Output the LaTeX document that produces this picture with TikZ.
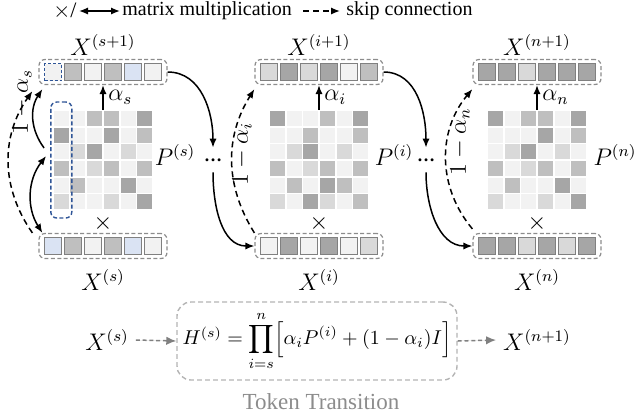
\documentclass[tikz,border=0pt]{standalone}
\usepackage{fontspec}
\setmainfont{Liberation Serif}
\usetikzlibrary{arrows.meta, positioning}

\definecolor{c0}{HTML}{F2F2F2}
\definecolor{c1}{HTML}{D9D9D9}
\definecolor{c2}{HTML}{BFBFBF}
\definecolor{c3}{HTML}{A6A6A6}
\definecolor{c4}{HTML}{DAE3F3}
\definecolor{cellgray}{HTML}{808080}
\definecolor{boxgray}{HTML}{8C8C8C}
\definecolor{selblue}{HTML}{2F5597}
\definecolor{lightline}{HTML}{B4B4B4}
\definecolor{tokgray}{HTML}{8C8C8C}

\tikzset{
  arr/.style={-{Latex[length=4.5pt,width=3.6pt]}, line width=0.75pt},
  dblarr/.style={{Latex[length=4.5pt,width=3.6pt]}-{Latex[length=4.5pt,width=3.6pt]}, line width=0.75pt},
  skiparr/.style={arr, dash pattern=on 3pt off 2pt},
  grayarr/.style={-{Latex[length=5pt,width=4.2pt]}, draw=cellgray, fill=cellgray, line width=0.75pt, dash pattern=on 2pt off 1.4pt},
  vecbox/.style={draw=boxgray, line width=0.6pt, dash pattern=on 2pt off 1.2pt, rounded corners=3pt,
    minimum width=64pt, minimum height=12.5pt, inner sep=0pt},
  vcell/.style={draw=cellgray, line width=0.5pt, minimum size=8.5pt, inner sep=0pt},
  selcell/.style={vcell, fill=c0, draw=selblue, dash pattern=on 1.5pt off 1pt, line width=0.7pt},
  matbox/.style={minimum size=50pt, inner sep=0pt},
  colbox/.style={draw=selblue, line width=0.7pt, dash pattern=on 2pt off 1.2pt, rounded corners=3pt,
    minimum width=10.5pt, minimum height=58pt, inner sep=0pt},
  dotsnode/.style={font=\fontsize{9}{9}\selectfont\bfseries, minimum height=12pt, inner sep=0pt},
  fbox/.style={draw=lightline, line width=0.7pt, dash pattern=on 2.4pt off 1.6pt, rounded corners=7pt,
    minimum width=140pt, minimum height=39pt, inner sep=1pt, font=\fontsize{9.8}{11}\selectfont},
  legtext/.style={anchor=west, inner sep=1pt, font=\fontsize{10}{12}\selectfont},
}

% 6x6 grey cells, centre x given, rows top to bottom
\newcommand{\matcells}[2]{%
  \foreach \row [count=\ri] in {#2} {
    \foreach \v [count=\nn] in \row {
      \fill[c\v] ({#1+(\nn-3.5)*16.67-7.5},{160+(\ri-3.5)*16.67-7.5}) rectangle ++(15,15);
    }
  }
}
% one token vector: name, centre x, centre y, codes (5 = selected)
\newcommand{\veccells}[4]{%
  \foreach \v [count=\nn] in {#4} {
    \ifnum\v=5
      \node[selcell] (#1-\nn) at ({#2+(\nn-3.5)*20},#3) {};
    \else
      \node[vcell, fill=c\v] (#1-\nn) at ({#2+(\nn-3.5)*20},#3) {};
    \fi
  }
}

\begin{document}
\begin{tikzpicture}[x=0.5pt, y=-0.5pt, font=\fontsize{12}{14}\selectfont]
  \useasboundingbox (0,0) rectangle (636,419);

  %legend
  \node[inner sep=0.5pt, font=\fontsize{11}{12}\selectfont] (legx) at (65,11) {$\times$/};
  \coordinate (lega) at (79,11);
  \node[legtext] (legmm) at (120,11) {matrix multiplication};
  \draw[dblarr] (lega) -- (legmm.west);
  \coordinate (legb) at (303,11);
  \node[legtext] (legsk) at (344,11) {skip connection};
  \draw[skiparr, shorten >=2pt] (legb) -- (legsk.west);

  %block s
  \matcells{103}{{0,0,2,2,0,3},{3,0,0,3,0,2},{0,1,3,0,1,0},{2,0,1,2,0,2},{0,2,0,0,3,0},{1,0,0,1,0,3}}
  \node[matbox] (mat1) at (103,160) {};
  \node[colbox] (col1) at (61.3,160) {};
  \node[vecbox] (top1) at (103,72) {};
  \veccells{t1}{103}{72}{5,2,0,2,4,0}
  \node[vecbox] (bot1) at (103,246) {};
  \veccells{b1}{103}{246}{4,2,0,2,4,0}
  \node (lt1) at (103,45) {$X^{(s+1)}$};
  \node (lb1) at (103,280) {$X^{(s)}$};
  \node (p1) at (175,155) {$P^{(s)}$};
  \node (m1) at (103,223) {$\times$};
  \draw[arr] (mat1.north) -- (top1.south) node[midway, right=-1pt] (a1) {$\alpha_s$};
  \draw[arr] ([xshift=-3pt,yshift=6pt]col1.west) to[bend left=35] ([xshift=2pt,yshift=-2pt]top1.south west);
  \draw[dblarr] ([xshift=-2pt,yshift=2pt]col1.west) to[bend right=35] ([xshift=2pt]bot1.north west);
  \draw[skiparr] ([xshift=-3pt]bot1.north west) to[bend left=35] ([xshift=-3pt,yshift=-3pt]top1.south west);
  \node[rotate=90] (r1) at (22,102) {$1-\alpha_s$};

  %block i
  \matcells{319}{{3,0,0,2,0,3},{0,0,2,0,0,2},{0,1,3,0,1,0},{2,0,1,2,0,2},{0,2,0,3,2,0},{1,0,3,1,0,2}}
  \node[matbox] (mat2) at (319,160) {};
  \node[vecbox] (top2) at (319,72) {};
  \veccells{t2}{319}{72}{1,3,1,3,0,2}
  \node[vecbox] (bot2) at (319,246) {};
  \veccells{b2}{319}{246}{0,3,0,3,0,1}
  \node (lt2) at (319,45) {$X^{(i+1)}$};
  \node (lb2) at (319,280) {$X^{(i)}$};
  \node (p2) at (394,155) {$P^{(i)}$};
  \node (m2) at (319,223) {$\times$};
  \draw[arr] (mat2.north) -- (top2.south) node[midway, right=-1pt] (a2) {$\alpha_i$};
  \draw[skiparr] (bot2.north west) to[bend left=32] ([yshift=-2pt]top2.south west);
  \node[rotate=90] (r2) at (242,154) {$1-\alpha_i$};

  %block n
  \matcells{537}{{3,0,2,2,0,3},{0,0,0,3,0,2},{0,1,3,0,1,0},{2,0,1,2,0,2},{0,2,0,0,3,0},{1,0,0,1,0,3}}
  \node[matbox] (mat3) at (537,160) {};
  \node[vecbox] (top3) at (537,72) {};
  \veccells{t3}{537}{72}{3,3,1,3,3,3}
  \node[vecbox] (bot3) at (537,246) {};
  \veccells{b3}{537}{246}{3,3,1,3,1,3}
  \node (lt3) at (537,45) {$X^{(n+1)}$};
  \node (lb3) at (537,280) {$X^{(n)}$};
  \node (p3) at (615,155) {$P^{(n)}$};
  \node (m3) at (537,223) {$\times$};
  \draw[arr] (mat3.north) -- (top3.south) node[midway, right=-1pt] (a3) {$\alpha_n$};
  \draw[skiparr] ([yshift=2pt]bot3.north west) to[bend left=40] ([yshift=-2pt]top3.south west);
  \node[rotate=90] (r3) at (460,142) {$1-\alpha_n$};

  %dots between blocks
  \node[dotsnode] (d1) at (213,160) {…};
  \node[dotsnode] (d2) at (426,160) {…};
  \draw[arr] (top1.east) to[out=0, in=90] (d1.north);
  \draw[arr] (d1.south) to[out=-90, in=180] (bot2.west);
  \draw[arr] (top2.east) to[out=0, in=90] (d2.north);
  \draw[arr] (d2.south) to[out=-90, in=180] (bot3.west);

  %token transition
  \node[fbox] (hbox) at (317,341) {$H^{(s)}=\displaystyle\prod_{i=s}^{n}\Bigl[\alpha_i P^{(i)}+(1-\alpha_i)I\Bigr]$};
  \node (xs) at (107,340) {$X^{(s)}$};
  \node (xn) at (537,340) {$X^{(n+1)}$};
  \draw[grayarr] (xs.east) -- (hbox.west);
  \draw[grayarr] (hbox.east) -- (xn.west);
  \node[text=tokgray, font=\fontsize{11.5}{13}\selectfont] (tok) at (321,402) {Token Transition};
\end{tikzpicture}
\end{document}
